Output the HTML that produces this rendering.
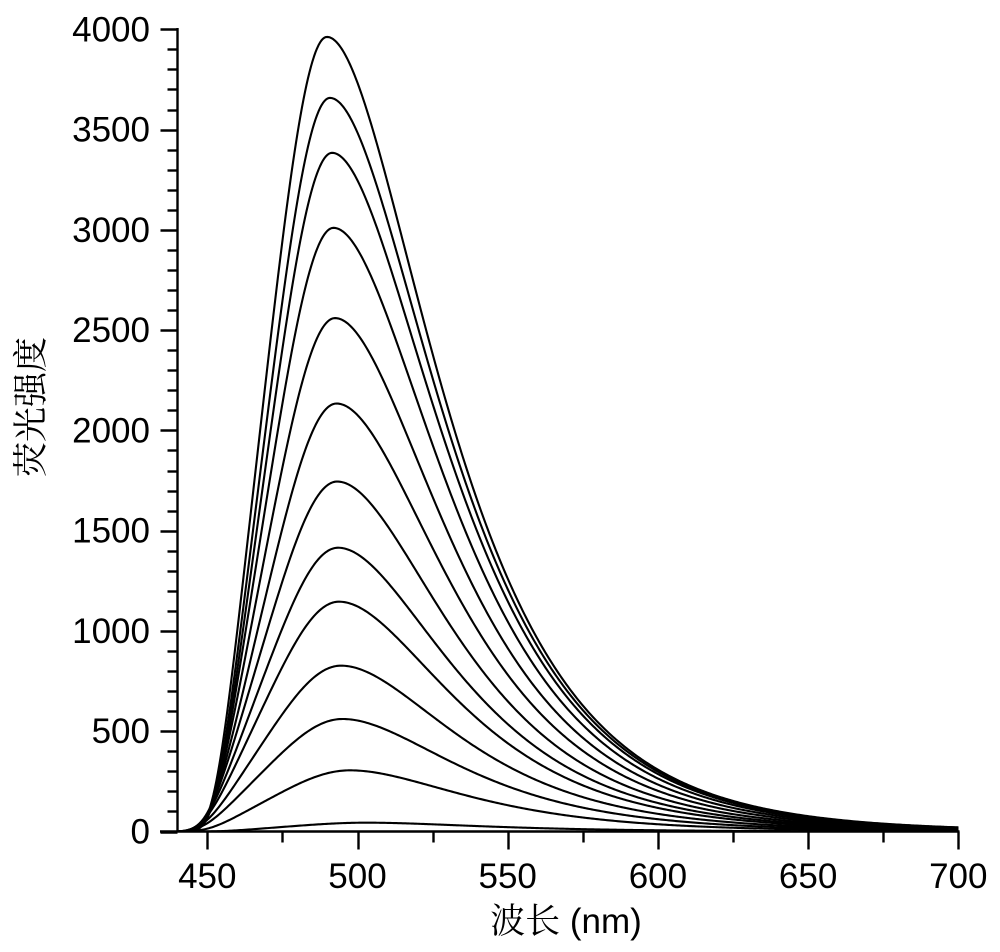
<!DOCTYPE html>
<html>
<head>
<meta charset="utf-8">
<style>
  html, body { margin: 0; padding: 0; background: #ffffff; }
  body { width: 1000px; height: 952px; overflow: hidden; }
  svg { display: block; }
  .lbl { font-family: "Liberation Sans", Arial, sans-serif; font-size: 35px; fill: #000; }
  .cjk { font-family: "Noto Serif CJK SC", "Noto Sans CJK SC", serif; font-size: 35px; fill: #000; }
  .ttl { font-family: "Liberation Sans", "Noto Serif CJK SC", sans-serif; font-size: 35px; fill: #000; }
</style>
</head>
<body>
<svg id="chart" xmlns="http://www.w3.org/2000/svg" width="1000" height="952" viewBox="0 0 1000 952">
  <rect x="0" y="0" width="1000" height="952" fill="#ffffff"/>
  <g id="curves" fill="none" stroke="#000" stroke-width="2.1" stroke-linejoin="round"></g>
  <g id="axes" stroke="#000" stroke-width="2.4" fill="none">
    <line x1="177.5" y1="28" x2="177.5" y2="832.5"/>
    <line x1="160" y1="831.5" x2="959.5" y2="831.5"/>
  </g>
  <g id="ticks" stroke="#000" stroke-width="2.4"></g>

  <!-- Y labels -->
  <g class="lbl" text-anchor="end">
    <text x="150" y="843.5">0</text>
    <text x="150" y="743.2">500</text>
    <text x="150" y="642.9">1000</text>
    <text x="150" y="542.7">1500</text>
    <text x="150" y="442.4">2000</text>
    <text x="150" y="342.1">2500</text>
    <text x="150" y="241.8">3000</text>
    <text x="150" y="141.6">3500</text>
    <text x="150" y="41.3">4000</text>
  </g>
  <!-- X labels -->
  <g class="lbl" text-anchor="middle">
    <text x="207.3" y="888">450</text>
    <text x="357.5" y="888">500</text>
    <text x="507.7" y="888">550</text>
    <text x="657.9" y="888">600</text>
    <text x="808.1" y="888">650</text>
    <text x="958.3" y="888">700</text>
  </g>
  <!-- Axis titles -->
  <text class="ttl" x="566" y="933" text-anchor="middle"><tspan class="cjk">波长</tspan> (nm)</text>
  <text class="cjk" x="0" y="0" text-anchor="middle" transform="translate(43,407) rotate(-90)">荧光强度</text>
</svg>
<script>
(function(){
  var NS = "http://www.w3.org/2000/svg";
  var X = function(l){ return 177.3 + (l-440)*3.004; };
  var Y = function(v){ return 831.5 - v*0.20055; };
  var ticks = document.getElementById('ticks');
  function line(x1,y1,x2,y2){
    var e = document.createElementNS(NS,'line');
    e.setAttribute('x1',x1); e.setAttribute('y1',y1);
    e.setAttribute('x2',x2); e.setAttribute('y2',y2);
    ticks.appendChild(e);
  }
  // Y ticks
  for (var v=0; v<=4000; v+=100){
    var y = Math.round(Y(v)) + 0.5;
    if (v % 500 === 0) line(160.5, y, 177.5, y);
    else line(167.5, y, 177.5, y);
  }
  // X ticks
  for (var l=450; l<=700; l+=25){
    var x = Math.round(X(l)) + 0.5;
    if ((l-450) % 50 === 0) line(x, 831.5, x, 849.5);
    else line(x, 831.5, x, 842.5);
  }
  // Curves
  var g = 0.5596, W = 64;
  function f(l, A, l0, sL, sR){
    var x = l - l0;
    if (x < 0){
      var u = -x/sL;
      var e = 0.00135*u*u + 2.76e-13*Math.pow(u,8);
      return A*Math.exp(-e);
    }
    var t = 1 + 2*g*x/(W*sR);
    var vv = Math.log(t)/g;
    return A*Math.exp(-Math.LN2*vv*vv);
  }
  var data = [
    [3962, 489.8],[3658, 490.8],[3384, 491.5],[3010, 492.0],
    [2560, 492.5],[2134, 493.0],[1745, 493.2],[1415, 493.5],
    [1146, 493.8],[827, 494.5],[561, 495.0],[305, 497.5],[44, 503.0]
  ];
  var cg = document.getElementById('curves');
  data.forEach(function(c){
    var A = c[0], l0 = c[1];
    var r = 1 - A/3962;
    var sL = 1 + 0.28*r, sR = 1 + 0.08*r;
    var d = '';
    for (var l=440; l<=700.001; l+=0.5){
      var v = f(l, A, l0, sL, sR);
      d += (d ? 'L' : 'M') + X(l).toFixed(2) + ',' + Y(v).toFixed(2);
    }
    var p = document.createElementNS(NS,'path');
    p.setAttribute('d', d);
    cg.appendChild(p);
  });
})();
</script>
</body>
</html>
